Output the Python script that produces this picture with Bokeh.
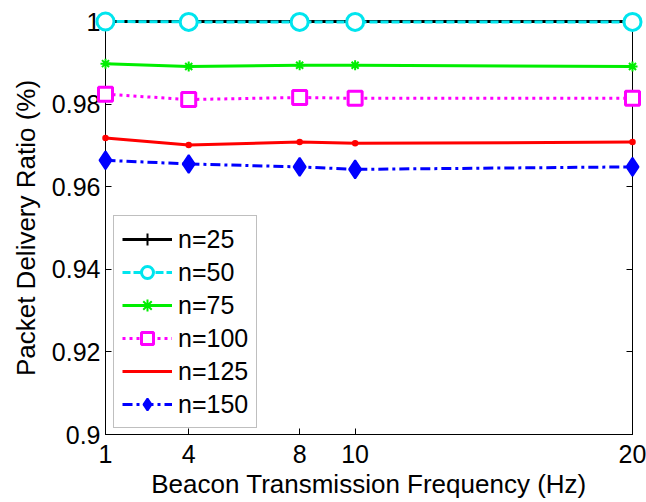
from bokeh.plotting import figure
from bokeh.models import FixedTicker, LinearAxis, Legend, LegendItem, Range1d
from bokeh.embed import file_html
from bokeh.resources import INLINE

# Beacon transmission frequencies (Hz)
freq = [1, 4, 8, 10, 20]

# Packet delivery ratio for each node count
pdr_n25 = [1.0, 1.0, 1.0, 1.0, 1.0]
pdr_n50 = [1.0, 0.9999, 0.9999, 0.9999, 0.9999]
pdr_n75 = [0.9898, 0.9891, 0.9894, 0.9894, 0.9891]
pdr_n100 = [0.9824, 0.9811, 0.9816, 0.9814, 0.9814]
pdr_n125 = [0.9718, 0.9701, 0.9708, 0.9705, 0.9708]
pdr_n150 = [0.9664, 0.9655, 0.9648, 0.9642, 0.9648]

series_labels = ["n=25", "n=50", "n=75", "n=100", "n=125", "n=150"]

x_ticks = [1, 4, 8, 10, 20]
y_ticks = [0.9, 0.92, 0.94, 0.96, 0.98, 1.0]
y_tick_labels = ["0.9", "0.92", "0.94", "0.96", "0.98", "1"]

FONT = "Liberation Sans"
FS = "25px"
FS_LABEL = "26px"

p = figure(width=646, height=502, output_backend="svg", toolbar_location=None,
           x_range=Range1d(1, 20), y_range=Range1d(0.9, 1.0),
           min_border_left=105, min_border_right=14, min_border_top=21,
           min_border_bottom=68)
p.background_fill_color = "white"
p.border_fill_color = "white"
p.outline_line_color = "black"
p.outline_line_width = 1
p.xgrid.visible = False
p.ygrid.visible = False

styles = [
    dict(y=pdr_n25, color="black", dash="solid", marker="cross", size=12, fill=None, lw=3, mlw=2),
    dict(y=pdr_n50, color="#00e5ee", dash="8 3", marker="circle", size=17, fill="white", lw=3, mlw=3),
    dict(y=pdr_n75, color="#00ee00", dash="solid", marker="asterisk", size=10, fill=None, lw=3, mlw=2),
    dict(y=pdr_n100, color="#ff00ff", dash="3 4", marker="square", size=14, fill="white", lw=3, mlw=3),
    dict(y=pdr_n125, color="#ff0000", dash="solid", marker="dot", size=26, fill="#ff0000", lw=3, mlw=2),
    dict(y=pdr_n150, color="#0000ff", dash="10 4 3 4", marker="diamond", size=18, fill="#0000ff", lw=3, mlw=2),
]

items = []
for st, lab in zip(styles, series_labels):
    ln = p.line(freq, st["y"], line_color=st["color"], line_width=st["lw"],
                line_dash=st["dash"], level="overlay")
    mk = p.scatter(freq, st["y"], marker=st["marker"], size=st["size"],
                   line_color=st["color"], line_width=st["mlw"],
                   fill_color=st["fill"], level="overlay")
    items.append(LegendItem(label=lab, renderers=[ln, mk]))

legend = Legend(items=items, location=(8, 6), label_text_font=FONT,
                label_text_font_size=FS, label_text_color="black",
                glyph_width=50, glyph_height=30,
                label_height=30, spacing=3, padding=8, margin=0,
                label_standoff=6, border_line_color="#808080",
                border_line_width=1, background_fill_color="white",
                background_fill_alpha=1.0)
p.add_layout(legend, "center")

for ax in (p.xaxis[0], p.yaxis[0]):
    ax.major_label_text_font = FONT
    ax.major_label_text_font_size = FS
    ax.major_label_text_color = "black"
    ax.axis_label_text_font = FONT
    ax.axis_label_text_font_size = FS_LABEL
    ax.axis_label_text_font_style = "normal"
    ax.axis_label_text_color = "black"
    ax.major_tick_in = 6
    ax.major_tick_out = 0
    ax.minor_tick_in = 0
    ax.minor_tick_out = 0
    ax.axis_line_color = "black"
    ax.major_tick_line_color = "black"

p.xaxis[0].ticker = FixedTicker(ticks=x_ticks)
p.xaxis[0].axis_label = "Beacon Transmission Frequency (Hz)"
p.xaxis[0].major_label_standoff = 10
p.xaxis[0].axis_label_standoff = 3

p.yaxis[0].ticker = FixedTicker(ticks=y_ticks)
p.yaxis[0].major_label_overrides = {t: s for t, s in zip(y_ticks, y_tick_labels)}
p.yaxis[0].axis_label = "Packet Delivery Ratio (%)"
p.yaxis[0].major_label_standoff = 5
p.yaxis[0].axis_label_standoff = 8

# Mirror ticks on the top and right edges of the frame (no labels there)
top = LinearAxis(ticker=FixedTicker(ticks=x_ticks),
                 major_label_overrides={t: "" for t in x_ticks},
                 major_tick_in=6, major_tick_out=0, minor_tick_in=0, minor_tick_out=0,
                 major_tick_line_color="black", axis_line_color="black")
right = LinearAxis(ticker=FixedTicker(ticks=y_ticks),
                   major_label_overrides={t: "" for t in y_ticks},
                   major_tick_in=6, major_tick_out=0, minor_tick_in=0, minor_tick_out=0,
                   major_tick_line_color="black", axis_line_color="black")
p.add_layout(top, "above")
p.add_layout(right, "right")

open("out.html", "w").write(file_html(p, INLINE))
